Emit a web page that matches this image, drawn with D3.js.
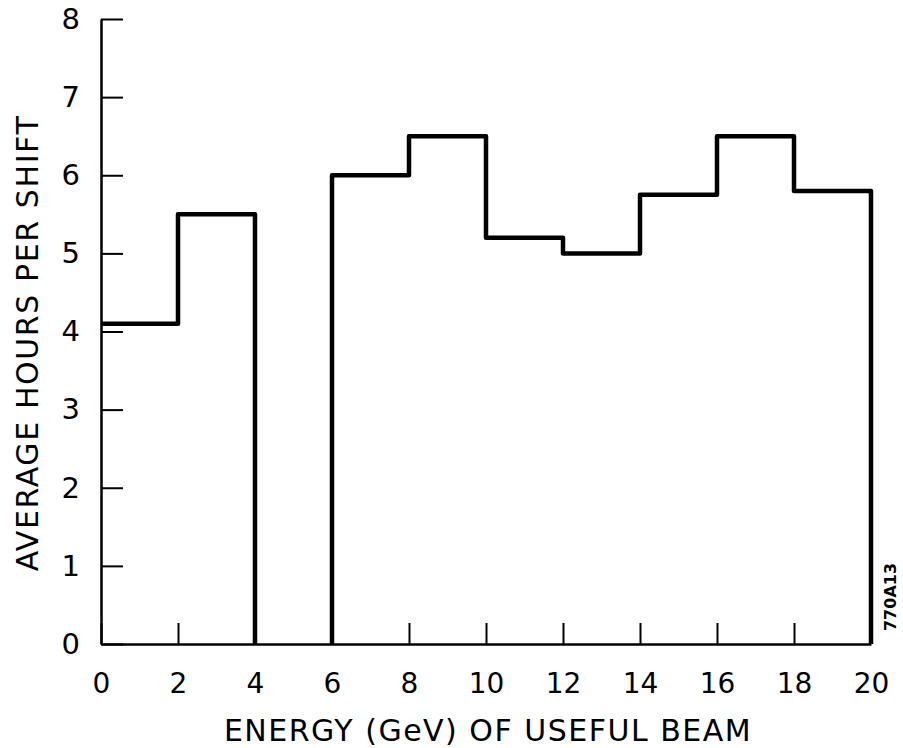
<!DOCTYPE html>
<html>
<head>
<meta charset="utf-8">
<script src="https://cdn.jsdelivr.net/npm/d3@7"></script>
<style>
  body { margin: 0; background: white; }
  text { font-family: "DejaVu Sans", sans-serif; fill: black; }
</style>
</head>
<body>
<svg id="chart" width="903" height="748"></svg>
<script>
// energy bins (GeV) and average hours per shift
var binStarts = [0, 2, 4, 6, 8, 10, 12, 14, 16, 18]
var binWidth = 2
var hours = [4.1, 5.5, 0, 6.0, 6.5, 5.2, 5.0, 5.75, 6.5, 5.8]
var xTicks = [0, 2, 4, 6, 8, 10, 12, 14, 16, 18, 20]
var yTicks = [0, 1, 2, 3, 4, 5, 6, 7, 8]

var svg = d3.select("#chart")

var margin = {top: 19, left: 101, right: 32, bottom: 104}
var width = 903 - margin.left - margin.right
var height = 748 - margin.top - margin.bottom

var x = d3.scaleLinear().domain([0, 20]).range([margin.left, margin.left + width])
var y = d3.scaleLinear().domain([0, 8]).range([margin.top + height, margin.top])

// axes, ticks pointing inward
var yAxis = svg.append("g")
  .attr("transform", "translate(" + x(0) + ",0)")
  .call(d3.axisLeft(y).tickValues(yTicks).tickSizeInner(-22).tickSizeOuter(0).tickPadding(21))
var xAxis = svg.append("g")
  .attr("transform", "translate(0," + y(0) + ")")
  .call(d3.axisBottom(x).tickValues(xTicks).tickSizeInner(-21).tickSizeOuter(0).tickPadding(29))

svg.selectAll(".domain").attr("stroke", "black").attr("stroke-width", 2.5)
svg.selectAll(".tick line").attr("stroke", "black").attr("stroke-width", 2)
svg.selectAll(".tick text").attr("font-size", "29px").attr("font-family", "DejaVu Sans").attr("fill", "black")
xAxis.selectAll(".tick text").attr("font-size", "28px")

// histogram outline
var pts = [[0, hours[0]]]
for (var i = 0; i < binStarts.length; i++) {
  var x0 = binStarts[i], x1 = binStarts[i] + binWidth
  if (hours[i] > 0) {
    pts.push([x0, hours[i]])
    pts.push([x1, hours[i]])
  } else {
    pts.push([x0, 0])
    pts.push(null)
    pts.push([x1, 0])
  }
}
pts.push([20, 0])

var line = d3.line()
  .defined(function (d) { return d != null })
  .x(function (d) { return x(d[0]) })
  .y(function (d) { return y(d[1]) })

svg.append("path")
  .attr("d", line(pts))
  .attr("fill", "none")
  .attr("stroke", "black")
  .attr("stroke-width", 4.5)
  .attr("stroke-linejoin", "round")

// titles
svg.append("text")
  .attr("x", 488)
  .attr("y", 741)
  .attr("text-anchor", "middle")
  .attr("font-size", "30px")
  .attr("letter-spacing", "1.5px")
  .text("ENERGY (GeV) OF USEFUL BEAM")

svg.append("text")
  .attr("transform", "translate(38,343) rotate(-90)")
  .attr("text-anchor", "middle")
  .attr("font-size", "30px")
  .attr("letter-spacing", "1.6px")
  .text("AVERAGE HOURS PER SHIFT")

svg.append("text")
  .attr("transform", "translate(896,597) rotate(-90)")
  .attr("text-anchor", "middle")
  .attr("font-size", "16px")
  .attr("font-weight", "bold")
  .text("770A13")
</script>
</body>
</html>
